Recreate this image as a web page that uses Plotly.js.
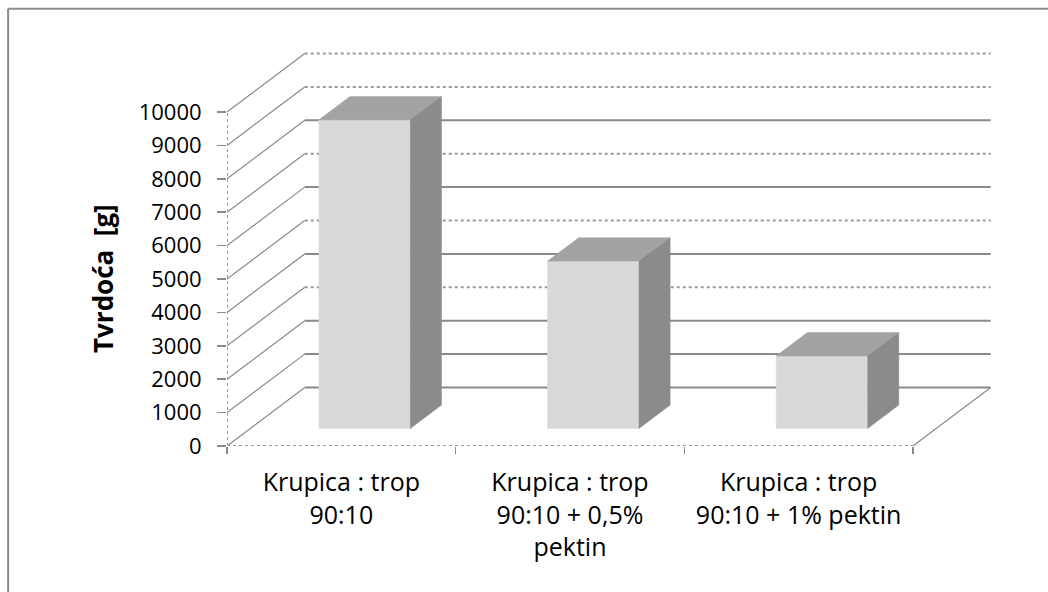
<!DOCTYPE html>
<html>
<head>
<meta charset="utf-8">
<script src="https://cdn.plot.ly/plotly-3.0.1.min.js"></script>
<style>html,body{margin:0;padding:0;background:#fff;}#chart{width:1048px;height:592px;}</style>
</head>
<body>
<div id="chart"></div>
<script>
// ---- data ----
const categories = ["Krupica : trop<br>90:10", "Krupica : trop<br>90:10 + 0,5%<br>pektin", "Krupica : trop<br>90:10 + 1% pektin"];
const values = [9240, 5010, 2170];
const yTickValues = [0, 1000, 2000, 3000, 4000, 5000, 6000, 7000, 8000, 9000, 10000];
const yTickLabels = ["0", "1000", "2000", "3000", "4000", "5000", "6000", "7000", "8000", "9000", "10000"];
const dottedGridValues = [3000, 5000, 7000, 9000, 10000];
const yTitle = "Tvrdoća  [g]";

// ---- oblique 3D projection (in axis data units) ----
const DX = 0.34;     // depth shift along category axis
const DY = 1751;     // depth shift along value axis
const GAP = 0.3;     // bar inset within category (width & depth)
const nCat = categories.length;
function P(x, d, v) { return [x + d * DX, v + d * DY]; }

const traces = [];
function addLine(pts, style) {
  traces.push({
    type: 'scatter', mode: 'lines', hoverinfo: 'skip', showlegend: false,
    x: pts.map(p => p[0]), y: pts.map(p => p[1]),
    line: Object.assign({color: '#8a8a8a', width: 1.5}, style)
  });
}

// back wall gridlines (solid + dotted groups)
const solidPts = [], dotPts = [];
yTickValues.forEach(v => {
  const target = dottedGridValues.includes(v) ? dotPts : solidPts;
  target.push(P(0, 1, v), P(nCat, 1, v), [null, null]);
});
addLine(solidPts, {width: 2, color: '#8a8a8a'});
addLine(dotPts, {width: 2, color: '#9a9a9a', dash: 'dot'});

// left wall diagonals
const diagPts = [];
yTickValues.forEach(v => { diagPts.push(P(0, 0, v), P(0, 1, v), [null, null]); });
addLine(diagPts, {width: 1.2, color: '#8a8a8a'});

// floor edges
addLine([P(0, 0, 0), P(nCat, 0, 0)], {width: 2, color: '#9a9a9a', dash: 'dot'});
addLine([P(nCat, 0, 0), P(nCat, 1, 0)], {width: 1.2, color: '#8a8a8a'});
// front value axis line
addLine([P(0, 0, 0), P(0, 0, yTickValues[yTickValues.length - 1])], {width: 2, color: '#9a9a9a', dash: 'dot'});

// bars
function addFace(pts, color) {
  const closed = pts.concat([pts[0]]);
  traces.push({
    type: 'scatter', mode: 'lines', fill: 'toself', fillcolor: color,
    hoverinfo: 'skip', showlegend: false,
    x: closed.map(p => p[0]), y: closed.map(p => p[1]),
    line: {color: color, width: 0.5}
  });
}
values.forEach((v, i) => {
  const x0 = i + GAP, x1 = i + 1 - GAP, d0 = GAP, d1 = 1 - GAP;
  addFace([P(x0, d0, 0), P(x1, d0, 0), P(x1, d0, v), P(x0, d0, v)], '#d9d9d9');
  addFace([P(x0, d0, v), P(x1, d0, v), P(x1, d1, v), P(x0, d1, v)], '#a3a3a3');
  addFace([P(x1, d0, 0), P(x1, d1, 0), P(x1, d1, v), P(x1, d0, v)], '#8b8b8b');
});

const fontFam = '"Open Sans", "DejaVu Sans", sans-serif';
const layout = {
  width: 1048, height: 592,
  margin: {l: 227, r: 50, t: 48, b: 146},
  paper_bgcolor: '#ffffff', plot_bgcolor: 'rgba(0,0,0,0)',
  font: {family: fontFam, size: 23, color: '#000000'},
  showlegend: false,
  xaxis: {
    range: [0, 3.372], fixedrange: true,
    showgrid: false, zeroline: false, showline: false,
    tickmode: 'array',
    tickvals: categories.map((c, i) => i + 0.5),
    ticktext: categories,
    ticks: '',
    ticklabelstandoff: 19,
    minor: {tickmode: 'array', tickvals: [0, 1, 2, 3], ticks: 'outside', ticklen: 7, tickcolor: '#8a8a8a', tickwidth: 1.5, showgrid: false},
    tickfont: {family: fontFam, size: 25, color: '#000'}
  },
  yaxis: {
    range: [0, 11916], fixedrange: true,
    showgrid: false, zeroline: false, showline: false,
    tickmode: 'array', tickvals: yTickValues, ticktext: yTickLabels,
    ticks: 'outside', ticklen: 9, tickcolor: '#8a8a8a', tickwidth: 1.5,
    ticklabelstandoff: 11,
    tickfont: {family: fontFam, size: 22, color: '#000'}
  },
  annotations: [{
    text: '<b>' + yTitle + '</b>', xref: 'x', yref: 'y',
    x: 0, y: 5000, xanchor: 'center', yanchor: 'middle',
    xshift: -124, textangle: -90, showarrow: false,
    font: {family: fontFam, size: 26, color: '#000'}
  }],
  shapes: [
    {type: 'line', xref: 'paper', yref: 'paper', x0: -0.2839, x1: 1.2, y0: 1.0985, y1: 1.0985, line: {color: '#8a8a8a', width: 2}},
    {type: 'line', xref: 'paper', yref: 'paper', x0: -0.2839, x1: -0.2839, y0: 1.0985, y1: -0.5, line: {color: '#8a8a8a', width: 2}}
  ]
};

Plotly.newPlot('chart', traces, layout, {displayModeBar: false, staticPlot: true});
</script>
</body>
</html>
